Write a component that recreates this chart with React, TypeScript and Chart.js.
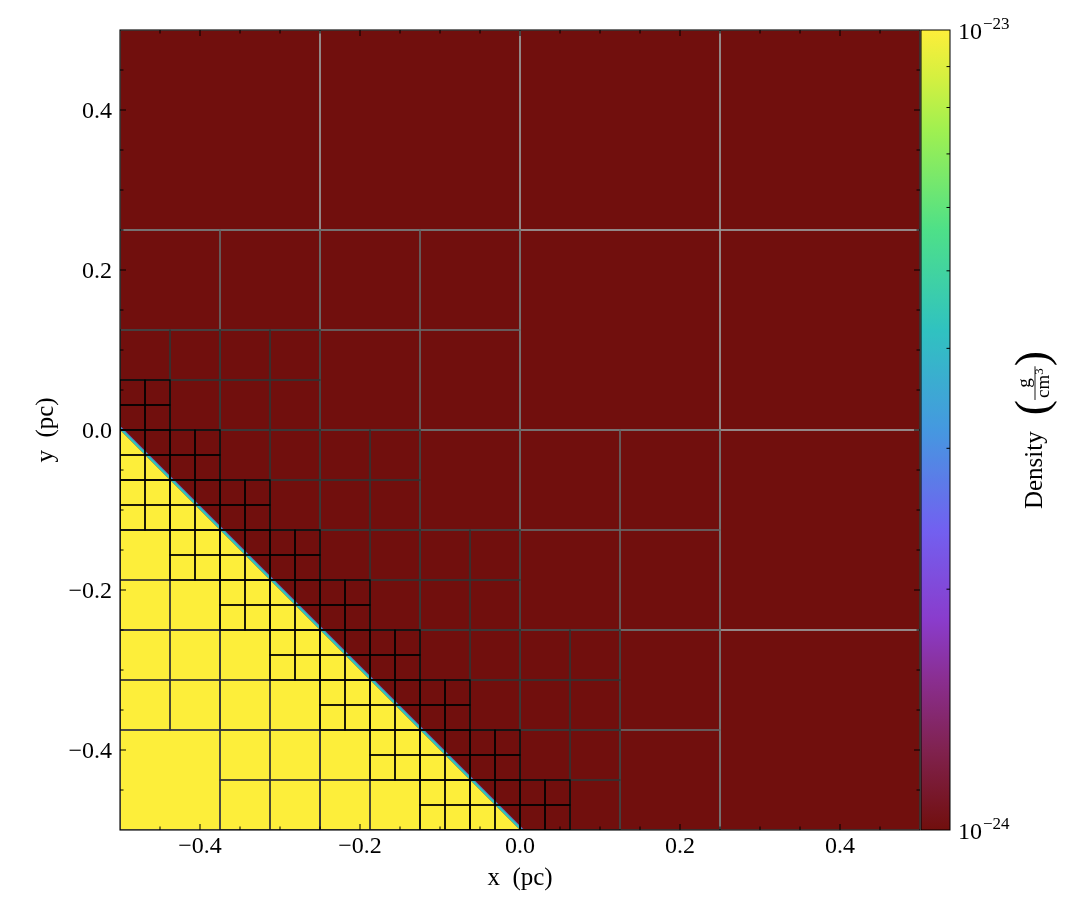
import React, { useEffect, useRef } from "react";
import { Chart, registerables } from "chart.js";

Chart.register(...registerables);

// ---------------- data ----------------
const X_LIMITS = [-0.5, 0.5];
const Y_LIMITS = [-0.5, 0.5];
const MAJOR_TICKS = [-0.4, -0.2, 0.0, 0.2, 0.4];
const MINOR_TICKS = [-0.45, -0.35, -0.3, -0.25, -0.15, -0.1, -0.05, 0.05, 0.1, 0.15, 0.25, 0.3, 0.35, 0.45];

const DENSITY_LIMITS = [1e-24, 1e-23];
const DENSITY_LOW = 1e-24;
const DENSITY_HIGH = 1e-23;
const DENSITY_INTERFACE = 4.2e-24;
const DENSITY_INTERFACE_EDGE = 2.4e-24;
const CB_MINOR_TICKS = [2e-24, 3e-24, 4e-24, 5e-24, 6e-24, 7e-24, 8e-24, 9e-24];
const CB_LABEL_VALUES = [1e-24, 1e-23];
const CB_LABEL_EXPONENTS = ["\u221224", "\u221223"];

// dense (high-density) region of the slice: a triangle below x + y = -0.5
const DENSE_REGION_X = [-0.5, 0.0, -0.5];
const DENSE_REGION_Y = [0.0, -0.5, -0.5];

// AMR block edge sizes per level (pc)
const BLOCK_SIZES = [0.25, 0.125, 0.0625, 0.03125];

// level-1 blocks (lower-left corners)
const BLOCKS_L1: number[][] = [
  [-0.5, 0.25], [-0.25, 0.25], [0.0, 0.25], [0.25, 0.25],
  [-0.5, 0.0], [-0.25, 0.0], [0.0, 0.0], [0.25, 0.0],
  [-0.5, -0.25], [-0.25, -0.25], [0.0, -0.25], [0.25, -0.25],
  [-0.5, -0.5], [-0.25, -0.5], [0.0, -0.5], [0.25, -0.5],
];
// blocks that are refined into four children
const REFINED_L1: number[][] = [
  [-0.5, 0.0], [-0.25, 0.0], [-0.5, -0.25], [-0.25, -0.25], [0.0, -0.25],
  [-0.5, -0.5], [-0.25, -0.5], [0.0, -0.5],
];
const REFINED_L2: number[][] = [
  [-0.5, 0.0], [-0.375, 0.0],
  [-0.5, -0.125], [-0.375, -0.125], [-0.5, -0.25], [-0.375, -0.25],
  [-0.25, -0.125], [-0.25, -0.25], [-0.125, -0.25],
  [-0.5, -0.375], [-0.375, -0.375], [-0.375, -0.5],
  [-0.25, -0.375], [-0.125, -0.375], [-0.25, -0.5], [-0.125, -0.5],
  [0.0, -0.375], [0.0, -0.5],
];
const REFINED_L3: number[][] = [
  [-0.5, 0.0],
  [-0.5, -0.0625], [-0.4375, -0.0625], [-0.5, -0.125], [-0.4375, -0.125],
  [-0.375, -0.125],
  [-0.4375, -0.1875],
  [-0.375, -0.1875], [-0.3125, -0.1875], [-0.375, -0.25], [-0.3125, -0.25],
  [-0.25, -0.25],
  [-0.3125, -0.3125],
  [-0.25, -0.3125], [-0.1875, -0.3125], [-0.25, -0.375], [-0.1875, -0.375],
  [-0.125, -0.375],
  [-0.1875, -0.4375],
  [-0.125, -0.4375], [-0.0625, -0.4375], [-0.125, -0.5], [-0.0625, -0.5],
  [0.0, -0.5],
];

// colormap (arbre-like) stops
const CMAP_POS = [0.0, 0.1, 0.1875, 0.2625, 0.375, 0.5, 0.625, 0.75, 0.875, 0.94, 1.0];
const CMAP_COLORS = [
  "#710f0d", "#80224f", "#8a2e90", "#8a3ccc", "#7260f0", "#4598e0",
  "#30c2c0", "#4ee088", "#a0f050", "#d4f040", "#fdee3a",
];
const LEVEL_EDGE_COLORS = ["#999999", "#666666", "#333333", "#000000"];

// ---------------- helpers ----------------
const FONT = '"Liberation Serif", "Times New Roman", serif';

function hexToRgb(h: string) {
  return [parseInt(h.slice(1, 3), 16), parseInt(h.slice(3, 5), 16), parseInt(h.slice(5, 7), 16)];
}
function cmapColor(t: number): string {
  const tt = Math.min(1, Math.max(0, t));
  for (let i = 0; i < CMAP_POS.length - 1; i++) {
    if (tt <= CMAP_POS[i + 1]) {
      const f = (tt - CMAP_POS[i]) / (CMAP_POS[i + 1] - CMAP_POS[i]);
      const a = hexToRgb(CMAP_COLORS[i]);
      const b = hexToRgb(CMAP_COLORS[i + 1]);
      const c = a.map((v, k) => Math.round(v + (b[k] - v) * f));
      return `rgb(${c[0]},${c[1]},${c[2]})`;
    }
  }
  return CMAP_COLORS[CMAP_COLORS.length - 1];
}
function children(blocks: number[][], size: number) {
  const h = size / 2;
  const out: number[][] = [];
  blocks.forEach(([x0, y0]) => {
    out.push([x0, y0 + h], [x0 + h, y0 + h], [x0, y0], [x0 + h, y0]);
  });
  return out;
}
const fmt = (v: number) => (v < 0 ? "\u2212" : "") + Math.abs(v).toFixed(1);

const fieldPlugin = {
  id: "amrField",
  beforeDraw(chart: any) {
    const { ctx, chartArea: a, scales } = chart;
    const xs = scales.x, ys = scales.y, cb = scales.cb;
    const X = (v: number) => xs.getPixelForValue(v);
    const Y = (v: number) => ys.getPixelForValue(v);
    const dColor = (d: number) => cmapColor((cb.bottom - cb.getPixelForValue(d)) / (cb.bottom - cb.top));

    ctx.save();
    ctx.fillStyle = "#ffffff";
    ctx.fillRect(0, 0, chart.width, chart.height);

    // low-density background
    ctx.fillStyle = dColor(DENSITY_LOW);
    ctx.fillRect(X(X_LIMITS[0]), Y(Y_LIMITS[1]), X(X_LIMITS[1]) - X(X_LIMITS[0]), Y(Y_LIMITS[0]) - Y(Y_LIMITS[1]));

    // clip to plotting area
    ctx.beginPath();
    ctx.rect(a.left, a.top, a.width, a.height);
    ctx.clip();

    // interface band along the hypotenuse of the dense region
    const p1 = [X(DENSE_REGION_X[0]), Y(DENSE_REGION_Y[0])];
    const p2 = [X(DENSE_REGION_X[1]), Y(DENSE_REGION_Y[1])];
    const n = [1 / Math.SQRT2, -1 / Math.SQRT2];
    const w = 2.6;
    ctx.fillStyle = dColor(DENSITY_INTERFACE);
    ctx.beginPath();
    ctx.moveTo(p1[0] - 1, p1[1] - 1);
    ctx.lineTo(p2[0] + 1, p2[1] + 1);
    ctx.lineTo(p2[0] + 1 + n[0] * w, p2[1] + 1 + n[1] * w);
    ctx.lineTo(p1[0] - 1 + n[0] * w, p1[1] - 1 + n[1] * w);
    ctx.closePath();
    ctx.fill();
    ctx.strokeStyle = dColor(DENSITY_INTERFACE_EDGE);
    ctx.lineWidth = 0.7;
    ctx.beginPath();
    ctx.moveTo(p1[0] - 1 + n[0] * (w + 0.3), p1[1] - 1 + n[1] * (w + 0.3));
    ctx.lineTo(p2[0] + 1 + n[0] * (w + 0.3), p2[1] + 1 + n[1] * (w + 0.3));
    ctx.stroke();

    // dense region
    ctx.fillStyle = dColor(DENSITY_HIGH);
    ctx.beginPath();
    DENSE_REGION_X.forEach((x, i) => {
      const px = X(x), py = Y(DENSE_REGION_Y[i]);
      if (i === 0) ctx.moveTo(px, py); else ctx.lineTo(px, py);
    });
    ctx.closePath();
    ctx.fill();

    // AMR block edges, coarse to fine
    const l2 = children(REFINED_L1, BLOCK_SIZES[0]);
    const l3 = children(REFINED_L2, BLOCK_SIZES[1]);
    const l4 = children(REFINED_L3, BLOCK_SIZES[2]);
    const levels = [BLOCKS_L1, l2, l3, l4];
    ctx.lineWidth = 1.3;
    levels.forEach((blocks, li) => {
      const s = BLOCK_SIZES[li];
      ctx.strokeStyle = LEVEL_EDGE_COLORS[li];
      blocks.forEach(([x0, y0]) => {
        const l = X(x0), r = X(x0 + s), t = Y(y0 + s), b = Y(y0);
        ctx.strokeRect(l, t, r - l, b - t);
      });
    });
    ctx.restore();
  },
  afterDraw(chart: any) {
    const { ctx, chartArea: a, scales } = chart;
    const xs = scales.x, ys = scales.y, cb = scales.cb;
    ctx.save();
    // frame
    ctx.strokeStyle = "#000";
    ctx.lineWidth = 1.1;
    ctx.strokeRect(a.left, a.top, a.width, a.height);

    // ticks (inward, all four sides)
    ctx.lineWidth = 1;
    const tick = (list: number[], len: number) => {
      list.forEach((v) => {
        const px = xs.getPixelForValue(v);
        const py = ys.getPixelForValue(v);
        ctx.beginPath();
        ctx.moveTo(px, a.bottom); ctx.lineTo(px, a.bottom - len);
        ctx.moveTo(px, a.top); ctx.lineTo(px, a.top + len);
        ctx.moveTo(a.left, py); ctx.lineTo(a.left + len, py);
        ctx.moveTo(a.right, py); ctx.lineTo(a.right - len, py);
        ctx.stroke();
      });
    };
    tick(MAJOR_TICKS, 6);
    tick(MINOR_TICKS, 3.5);

    // tick labels
    ctx.fillStyle = "#000";
    ctx.font = `24px ${FONT}`;
    ctx.textBaseline = "alphabetic";
    ctx.textAlign = "center";
    MAJOR_TICKS.forEach((v) => ctx.fillText(fmt(v), xs.getPixelForValue(v), a.bottom + 23));
    ctx.textAlign = "right";
    MAJOR_TICKS.forEach((v) => ctx.fillText(fmt(v), a.left - 8, ys.getPixelForValue(v) + 8));

    // axis titles
    ctx.textAlign = "center";
    ctx.font = `25px ${FONT}`;
    ctx.fillText("x  (pc)", (a.left + a.right) / 2, a.bottom + 55);
    ctx.save();
    ctx.translate(53, (a.top + a.bottom) / 2);
    ctx.rotate(-Math.PI / 2);
    ctx.fillText("y  (pc)", 0, 0);
    ctx.restore();

    // colorbar
    const cl = a.right + 1, cw = 29;
    const ct = cb.getPixelForValue(DENSITY_LIMITS[1]);
    const cbot = cb.getPixelForValue(DENSITY_LIMITS[0]);
    const g = ctx.createLinearGradient(0, cbot, 0, ct);
    CMAP_POS.forEach((p, i) => g.addColorStop(p, CMAP_COLORS[i]));
    ctx.fillStyle = g;
    ctx.fillRect(cl, ct, cw, cbot - ct);
    ctx.strokeStyle = "#000";
    ctx.lineWidth = 1;
    ctx.strokeRect(cl, ct, cw, cbot - ct);
    CB_MINOR_TICKS.forEach((v) => {
      const py = cb.getPixelForValue(v);
      ctx.beginPath();
      ctx.moveTo(cl + cw, py);
      ctx.lineTo(cl + cw - 3.5, py);
      ctx.stroke();
    });
    // colorbar labels 10^n
    ctx.fillStyle = "#000";
    ctx.textAlign = "left";
    CB_LABEL_VALUES.forEach((v, i) => {
      const py = cb.getPixelForValue(v);
      ctx.font = `24px ${FONT}`;
      ctx.fillText("10", cl + cw + 8, py + 9);
      const w10 = ctx.measureText("10").width;
      ctx.font = `17px ${FONT}`;
      ctx.fillText(CB_LABEL_EXPONENTS[i], cl + cw + 8 + w10 + 1, py - 1);
    });

    // colorbar title: Density (g / cm^3), rotated
    ctx.save();
    const baseX = 1042;
    const cy = (ct + cbot) / 2;
    ctx.translate(baseX, cy);
    ctx.rotate(-Math.PI / 2);
    ctx.textAlign = "left";
    ctx.font = `25px ${FONT}`;
    const wD = ctx.measureText("Density").width;
    ctx.font = `46px ${FONT}`;
    const wP = ctx.measureText("(").width;
    ctx.font = `19px ${FONT}`;
    const wcm = ctx.measureText("cm").width;
    ctx.font = `13px ${FONT}`;
    const w3 = ctx.measureText("3").width;
    const wFrac = wcm + w3 + 4;
    const gap = 16;
    const total = wD + gap + wP + wFrac + wP;
    let u = -total / 2;
    ctx.font = `25px ${FONT}`;
    ctx.fillText("Density", u, 0);
    u += wD + gap;
    const axisV = -7;
    ctx.font = `46px ${FONT}`;
    ctx.fillText("(", u, axisV + 12);
    u += wP;
    // fraction
    ctx.fillRect(u, axisV - 0.45, wFrac, 0.9);
    ctx.font = `19px ${FONT}`;
    ctx.textAlign = "center";
    ctx.fillText("g", u + wFrac / 2, axisV - 5);
    ctx.textAlign = "left";
    ctx.fillText("cm", u + 2, axisV + 14);
    ctx.font = `13px ${FONT}`;
    ctx.fillText("3", u + 2 + wcm, axisV + 8);
    u += wFrac;
    ctx.font = `46px ${FONT}`;
    ctx.fillText(")", u, axisV + 12);
    ctx.restore();

    ctx.restore();
  },
};

export default function App() {
  const ref = useRef<HTMLCanvasElement>(null);
  useEffect(() => {
    const canvas = ref.current;
    if (!canvas) return;
    const chart = new Chart(canvas, {
      type: "scatter",
      data: { datasets: [] },
      options: {
        responsive: false,
        animation: false,
        devicePixelRatio: 1,
        layout: { padding: { left: 0, top: 30, right: 165, bottom: 0 } },
        plugins: { legend: { display: false }, tooltip: { enabled: false } },
        scales: {
          x: {
            type: "linear", min: X_LIMITS[0], max: X_LIMITS[1], position: "bottom",
            grid: { display: false }, border: { display: false }, ticks: { display: false },
            afterFit: (s: any) => { s.height = 90; },
          },
          y: {
            type: "linear", min: Y_LIMITS[0], max: Y_LIMITS[1], position: "left",
            grid: { display: false }, border: { display: false }, ticks: { display: false },
            afterFit: (s: any) => { s.width = 120; },
          },
          cb: {
            type: "logarithmic", min: DENSITY_LIMITS[0], max: DENSITY_LIMITS[1], position: "right",
            grid: { display: false }, border: { display: false }, ticks: { display: false },
            afterFit: (s: any) => { s.width = 0; },
          },
        },
      } as any,
      plugins: [fieldPlugin],
    });
    return () => chart.destroy();
  }, []);
  return (
    <div style={{ position: "absolute", left: 0, top: 0, width: 1085, height: 920 }}>
      <canvas ref={ref} width={1085} height={920} />
    </div>
  );
}
